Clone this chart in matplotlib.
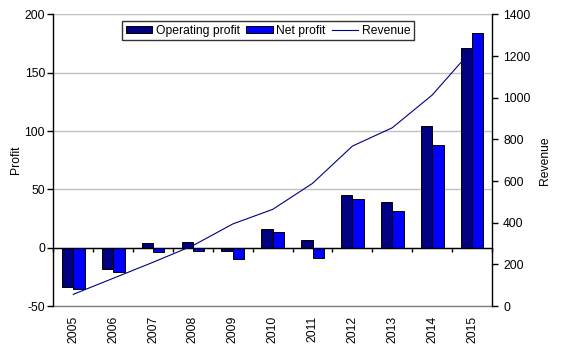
import numpy as np
import matplotlib
matplotlib.use("Agg")
import matplotlib.pyplot as plt
from matplotlib.patches import Patch
from matplotlib.lines import Line2D

plt.rcParams["font.family"] = ["Liberation Sans", "DejaVu Sans"]
plt.rcParams["font.size"] = 8.7
plt.rcParams["axes.unicode_minus"] = False

years = ["2005", "2006", "2007", "2008", "2009", "2010",
         "2011", "2012", "2013", "2014", "2015"]
operating_profit = [-34, -18, 3.7, 4.5, -2.9, 15.7, 6.3, 44.9, 38.9, 104, 171]
net_profit = [-35.5, -20.6, -3.4, -2.9, -9.8, 13.1, -8.9, 42, 31.1, 88.3, 184]
revenue = [56, 133, 210, 290, 394, 464, 589, 768, 856, 1013, 1230]

OP_COLOR = "#000080"
NET_COLOR = "#0000FF"
LINE_COLOR = "#000080"

x = np.arange(len(years))
bw = 1 / 3.5  # gap width 150%

fig = plt.figure(figsize=(5.62, 3.49), dpi=100)
ax = fig.add_axes([0.0949, 0.1232, 0.7805, 0.8353])

ax.bar(x - bw / 2, operating_profit, bw, color=OP_COLOR, edgecolor="black", linewidth=0.7, zorder=3)
ax.bar(x + bw / 2, net_profit, bw, color=NET_COLOR, edgecolor="black", linewidth=0.7, zorder=3)

ax.set_xlim(-0.5, len(years) - 0.5)
ax.set_ylim(-50, 200)
ax.set_yticks(np.arange(-50, 201, 50))
ax.yaxis.grid(True, color="#c0c0c0", linewidth=1)
ax.set_axisbelow(True)
ax.set_ylabel("Profit", labelpad=2)
ax.tick_params(axis="y", direction="out", length=4, width=1, pad=2, colors="black")

# category axis crosses at zero, ticks between categories
for side in ["top", "right"]:
    ax.spines[side].set_visible(False)
ax.spines["left"].set_linewidth(1)
ax.spines["bottom"].set_position(("data", 0))
ax.spines["bottom"].set_linewidth(1)
ax.spines["bottom"].set_zorder(4)
ax.set_xticks(np.arange(len(years) + 1) - 0.5)
ax.set_xticklabels([])
ax.tick_params(axis="x", direction="out", length=3, width=1)

# year labels along the bottom of the plot area
sec = ax.secondary_xaxis("bottom")
sec.set_xticks(x)
sec.set_xticklabels(years, rotation=90)
sec.tick_params(length=0, pad=7)
sec.spines["bottom"].set_color("#808080")
sec.spines["bottom"].set_linewidth(1)

ax2 = ax.twinx()
ax2.plot(x, revenue, color=LINE_COLOR, linewidth=0.8, zorder=5)
ax2.set_ylim(0, 1400)
ax2.set_yticks(np.arange(0, 1401, 200))
ax2.set_ylabel("Revenue", labelpad=6)
ax2.tick_params(axis="y", direction="out", length=4, width=1, pad=4)
for side in ["top", "left", "bottom"]:
    ax2.spines[side].set_visible(False)
ax2.spines["right"].set_linewidth(1)

handles = [
    Patch(facecolor=OP_COLOR, edgecolor="black", linewidth=0.7),
    Patch(facecolor=NET_COLOR, edgecolor="black", linewidth=0.7),
    Line2D([], [], color=LINE_COLOR, linewidth=0.8),
]
leg = ax2.legend(handles, ["Operating profit", "Net profit", "Revenue"],
                 ncol=3, loc="upper center", bbox_to_anchor=(0.49, 0.977),
                 frameon=True, fancybox=False, edgecolor="black",
                 handlelength=2.2, handleheight=0.55, handletextpad=0.3,
                 columnspacing=0.5, borderpad=0.3, borderaxespad=0)
leg.get_frame().set_linewidth(1)

fig.savefig("out.png", dpi=100)
